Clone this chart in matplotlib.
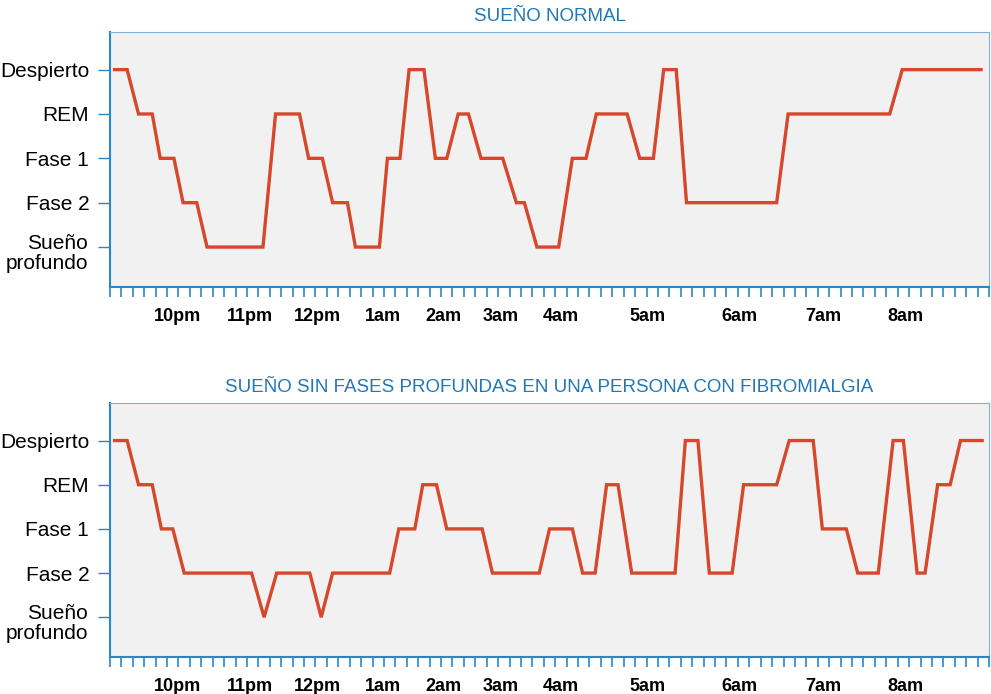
import matplotlib.pyplot as plt

# niveles del sueño (0 = sueño profundo ... 4 = despierto)
levels = [0, 1, 2, 3, 4]
level_labels = ['', 'Fase 2', 'Fase 1', 'REM', 'Despierto']
deep_label = 'Sueño\nprofundo'

# etiquetas horarias (posición en marcas del eje)
hour_pos = [5.9, 12.3, 18.2, 23.9, 29.2, 34.2, 39.5, 47.1, 55.1, 62.5, 69.7]
hour_labels = ['10pm', '11pm', '12pm', '1am', '2am', '3am', '4am', '5am', '6am', '7am', '8am']

# sueño normal
normal_x = [0.4, 1.5, 2.5, 3.7, 4.4, 5.6, 6.4, 7.6, 8.5, 13.4, 14.5, 16.6, 17.4, 18.6,
            19.5, 20.8, 21.5, 23.6, 24.3, 25.4, 26.2, 27.5, 28.5, 29.5, 30.5, 31.4,
            32.5, 34.4, 35.6, 36.3, 37.4, 39.3, 40.5, 41.7, 42.6, 45.3, 46.4, 47.6,
            48.5, 49.6, 50.5, 58.4, 59.4, 68.3, 69.4, 76.3]
normal_y = [4, 4, 3, 3, 2, 2, 1, 1, 0, 0, 3, 3, 2, 2, 1, 1, 0, 0, 2, 2, 4, 4, 2, 2,
            3, 3, 2, 2, 1, 1, 0, 0, 2, 2, 3, 3, 2, 2, 4, 4, 1, 1, 3, 3, 4, 4]

# sueño con fibromialgia
fibro_x = [0.4, 1.5, 2.5, 3.7, 4.5, 5.5, 6.5, 12.4, 13.5, 14.6, 17.5, 18.5, 19.5,
           24.5, 25.3, 26.7, 27.4, 28.6, 29.5, 32.6, 33.5, 37.6, 38.5, 40.5, 41.4,
           42.5, 43.5, 44.5, 45.7, 49.5, 50.4, 51.5, 52.5, 54.5, 55.5, 58.4, 59.5,
           61.6, 62.4, 64.5, 65.5, 67.3, 68.6, 69.5, 70.7, 71.4, 72.5, 73.6, 74.5, 76.4]
fibro_y = [4, 4, 3, 3, 2, 2, 1, 1, 0, 1, 1, 0, 1, 1, 2, 2, 3, 3, 2, 2, 1, 1, 2, 2,
           1, 1, 3, 3, 1, 1, 4, 4, 1, 1, 3, 3, 4, 4, 2, 2, 1, 1, 4, 4, 1, 1, 3, 3, 4, 4]

titles = ['SUEÑO NORMAL', 'SUEÑO SIN FASES PROFUNDAS EN UNA PERSONA CON FIBROMIALGIA']

sans = ['Liberation Sans', 'DejaVu Sans']
blue = '#2b86c5'
red = '#d6472c'

fig = plt.figure(figsize=(9.91, 6.94), dpi=100)
ax1 = fig.add_axes([0.111, 0.5865, 0.887, 0.3675])
ax2 = fig.add_axes([0.111, 0.0533, 0.887, 0.366])

for ax, xs, ys, title in [(ax1, normal_x, normal_y, titles[0]),
                          (ax2, fibro_x, fibro_y, titles[1])]:
    ax.set_facecolor('#f1f1f1')
    ax.plot(xs, ys, color=red, lw=2.4, solid_joinstyle='miter')
    ax.set_xlim(0, 77)
    ax.set_ylim(-0.9, 4.85)

    ax.set_yticks(levels)
    ax.set_yticklabels(level_labels, family=sans, fontsize=15)
    ax.tick_params(axis='y', length=9, width=1, color=blue, pad=6)
    # etiqueta de dos líneas, algo más baja que la marca
    ax.text(-0.025, -0.14, deep_label, transform=ax.get_yaxis_transform(),
            ha='right', va='center', family=sans, fontsize=15, linespacing=1.1)

    ax.set_xticks(hour_pos)
    ax.set_xticklabels(hour_labels, family=sans, fontsize=13, fontweight='bold')
    ax.set_xticks(range(78), minor=True)
    ax.tick_params(axis='x', which='major', length=0, pad=15)
    ax.tick_params(axis='x', which='minor', length=7, width=1.2, color=blue)

    for side in ['left', 'bottom']:
        ax.spines[side].set_color(blue)
        ax.spines[side].set_linewidth(1.5)
    ax.spines['top'].set_color('#7fb0da')
    ax.spines['top'].set_linestyle((0, (3, 1)))
    ax.spines['right'].set_color('#7fb0da')

    ax.set_title(title, family=sans, fontsize=13.5, color='#2277b5', pad=8)

fig.savefig('out.png', dpi=100)
